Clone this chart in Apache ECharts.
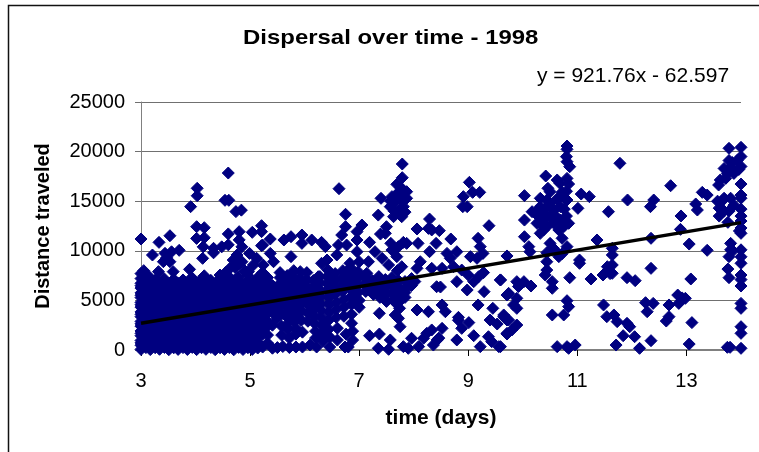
<!DOCTYPE html>
<html>
<head>
<meta charset="utf-8">
<script src="https://cdn.jsdelivr.net/npm/echarts@6/dist/echarts.min.js"></script>
<style>html,body{margin:0;padding:0;background:#fff}#main{width:759px;height:452px}</style>
</head>
<body>
<div id="main"></div>
<script>
// [days, distance], one list per stretch of the x axis
var block3to5 = [
[3.00,60],[3.17,40],[3.34,70],[3.51,30],[3.68,60],[3.85,50],[4.02,40],[4.19,70],[4.36,30],[4.53,60],[4.70,20],[4.87,50],[5.04,60],
[3.00,480],[3.08,500],[3.26,470],[3.42,510],[3.60,480],[3.77,490],[3.93,520],[4.10,470],[4.28,500],[4.44,480],[4.62,510],[4.78,490],[4.96,470],
[3.00,960],[3.17,950],[3.34,980],[3.51,940],[3.68,970],[3.85,960],[4.02,990],[4.19,950],[4.36,960],[4.53,980],[4.70,940],[4.87,970],[5.04,950],
[3.00,1440],[3.08,1450],[3.26,1430],[3.42,1470],[3.60,1440],[3.77,1420],[3.93,1460],[4.10,1440],[4.28,1450],[4.44,1430],[4.62,1460],[4.78,1440],[4.96,1420],
[3.00,1920],[3.17,1930],[3.34,1900],[3.51,1940],[3.68,1920],[3.85,1890],[4.02,1930],[4.19,1910],[4.36,1940],[4.53,1900],[4.70,1920],[4.87,1950],[5.04,1900],
[3.00,2400],[3.08,2390],[3.26,2420],[3.42,2380],[3.60,2410],[3.77,2400],[3.93,2370],[4.10,2420],[4.28,2390],[4.44,2410],[4.62,2380],[4.78,2400],[4.96,2420],
[3.00,2880],[3.17,2860],[3.34,2900],[3.51,2870],[3.68,2890],[3.85,2850],[4.02,2880],[4.19,2900],[4.36,2860],[4.53,2890],[4.70,2870],[4.87,2840],[5.04,2880],
[3.00,3360],[3.08,3380],[3.26,3340],[3.42,3370],[3.60,3350],[3.77,3390],[3.93,3360],[4.10,3330],[4.28,3370],[4.44,3350],[4.62,3380],[4.78,3340],[4.96,3360],
[3.00,3840],[3.17,3820],[3.34,3860],[3.51,3830],[3.68,3850],[3.85,3810],[4.02,3870],[4.19,3840],[4.36,3820],[4.53,3850],[4.70,3830],[4.87,3860],[5.04,3840],
[3.00,4320],[3.08,4340],[3.26,4300],[3.42,4330],[3.60,4310],[3.77,4350],[3.93,4320],[4.10,4290],[4.28,4330],[4.44,4310],[4.62,4340],[4.78,4300],[4.96,4320],
[3.00,4800],[3.17,4780],[3.34,4820],[3.51,4790],[3.68,4810],[3.85,4770],[4.02,4800],[4.19,4830],[4.36,4790],[4.53,4810],[4.70,4780],[4.87,4820],[5.04,4800],
[3.00,5280],[3.08,5300],[3.26,5260],[3.42,5290],[3.60,5270],[3.77,5310],[3.93,5280],[4.10,5250],[4.28,5290],[4.44,5270],[4.62,5300],[4.78,5260],[4.96,5280],
[3.00,5760],[3.17,5740],[3.34,5780],[3.51,5750],[3.68,5770],[3.85,5730],[4.02,5790],[4.19,5760],[4.36,5740],[4.53,5770],[4.70,5750],[4.87,5780],[5.04,5760],
[3.00,6240],[3.08,6260],[3.26,6220],[3.42,6250],[3.60,6230],[3.77,6270],[3.93,6240],[4.10,6210],[4.28,6250],[4.44,6230],[4.62,6260],[4.78,6220],[4.96,6240],
[3.00,6720],[3.17,6700],[3.34,6740],[3.51,6710],[3.68,6730],[3.85,6690],[4.02,6720],[4.19,6750],[4.36,6710],[4.53,6730],[4.70,6700],[4.87,6740],[5.04,6720],
[3.00,7200],[3.08,7320],[3.26,7050],[3.42,7210],[3.60,7120],[3.77,7060],[3.93,7300],[4.10,7110],[4.28,7020],[4.44,7150],[4.62,7340],[4.78,7400],[4.96,7500],
[3.00,7700],[3.05,8000],[3.13,7500],[3.32,7900],[3.59,7900],[3.89,8130],[4.16,7480],[4.45,7560],[4.55,7800],[4.63,8230],[4.72,8350],[4.90,8000],[4.97,7900]
];
// second pass over the same block, the points between the ones above
var blockFill3to5 = [
[3.09,240],[3.26,230],[3.43,250],[3.60,220],[3.77,240],[3.94,260],[4.11,230],[4.28,250],[4.45,220],[4.62,240],[4.79,260],[4.96,230],
[3.00,720],[3.17,730],[3.34,710],[3.51,740],[3.68,720],[3.85,700],[4.02,730],[4.19,710],[4.36,740],[4.53,720],[4.70,700],[4.87,730],[5.04,710],
[3.09,1200],[3.26,1190],[3.43,1220],[3.60,1210],[3.77,1180],[3.94,1200],[4.11,1230],[4.28,1190],[4.45,1210],[4.62,1200],[4.79,1180],[4.96,1220],
[3.00,1680],[3.17,1700],[3.34,1670],[3.51,1690],[3.68,1660],[3.85,1680],[4.02,1710],[4.19,1670],[4.36,1690],[4.53,1680],[4.70,1660],[4.87,1700],[5.04,1670],
[3.09,2160],[3.26,2140],[3.43,2170],[3.60,2150],[3.77,2180],[3.94,2160],[4.11,2130],[4.28,2170],[4.45,2150],[4.62,2180],[4.79,2140],[4.96,2160],
[3.00,2640],[3.17,2650],[3.34,2620],[3.51,2660],[3.68,2630],[3.85,2650],[4.02,2610],[4.19,2640],[4.36,2660],[4.53,2620],[4.70,2650],[4.87,2630],[5.04,2640],
[3.09,3120],[3.26,3100],[3.43,3130],[3.60,3110],[3.77,3140],[3.94,3120],[4.11,3090],[4.28,3130],[4.45,3110],[4.62,3140],[4.79,3100],[4.96,3120],
[3.00,3600],[3.17,3620],[3.34,3590],[3.51,3610],[3.68,3580],[3.85,3600],[4.02,3630],[4.19,3590],[4.36,3610],[4.53,3600],[4.70,3580],[4.87,3620],[5.04,3590],
[3.09,4080],[3.26,4060],[3.43,4090],[3.60,4070],[3.77,4100],[3.94,4080],[4.11,4050],[4.28,4090],[4.45,4070],[4.62,4100],[4.79,4060],[4.96,4080],
[3.00,4560],[3.17,4570],[3.34,4540],[3.51,4580],[3.68,4550],[3.85,4570],[4.02,4530],[4.19,4560],[4.36,4580],[4.53,4540],[4.70,4570],[4.87,4550],[5.04,4560],
[3.09,5040],[3.26,5020],[3.43,5050],[3.60,5030],[3.77,5060],[3.94,5040],[4.11,5010],[4.28,5050],[4.45,5030],[4.62,5060],[4.79,5020],[4.96,5040],
[3.00,5520],[3.17,5540],[3.34,5510],[3.51,5530],[3.68,5500],[3.85,5520],[4.02,5550],[4.19,5510],[4.36,5530],[4.53,5520],[4.70,5500],[4.87,5540],[5.04,5510],
[3.09,6000],[3.26,5980],[3.43,6010],[3.60,5990],[3.77,6020],[3.94,6000],[4.11,5970],[4.28,6010],[4.45,5990],[4.62,6020],[4.79,5980],[4.96,6000],
[3.00,6480],[3.17,6490],[3.34,6460],[3.51,6500],[3.68,6470],[3.85,6490],[4.02,6450],[4.19,6480],[4.36,6500],[4.53,6460],[4.70,6490],[4.87,6470],[5.04,6480],
[3.09,6960],[3.26,6940],[3.43,6970],[3.60,6950],[3.77,6900],[3.94,6960],[4.11,6930],[4.28,6880],[4.45,6950],[4.62,6980],[4.79,6940],[4.96,6960]
];
var upper3to5 = [
[3.00,11190],[3.21,9576],[3.33,10850],[3.53,11520],[3.70,10046],[3.44,9744],[3.41,8900],[3.56,9900],[3.53,8900],[3.47,9300],
[4.03,16300],[4.03,15550],[3.91,14450],[4.02,12430],[4.16,12330],[4.02,11250],[4.16,11320],[4.14,10400],[4.33,10250],[4.33,9800],[4.13,9240],
[4.60,17840],[4.54,15090],[4.61,15090],[4.74,13950],[4.84,14100],[4.60,11700],[4.60,10600],[4.48,10400],[4.80,11930],[4.80,11100],[4.85,10400],
[4.99,9740],[4.69,9070],[4.76,9580],[4.85,8900],[4.80,8700]
];
var cloud5to8 = [
[5.04,11860],[5.21,12530],[5.21,11930],[5.23,10580],[5.37,11190],[5.12,9240],[5.24,8570],[5.06,8570],[5.21,10520],[5.37,9740],[5.43,8900],[5.55,7800],
[5.62,11090],[5.75,11420],[5.95,11590],[5.95,10750],[6.13,11090],[6.31,10850],[6.38,10420],[5.75,9410],[6.63,16260],[6.75,13680],[6.75,12430],[6.68,11590],
[7.05,12600],[6.96,11930],[6.62,10580],[6.77,10580],[6.59,9580],[6.96,11090],[7.19,10850],[6.96,9910],[6.41,9070],[6.31,8740],[6.25,7390],[6.83,8740],[7.17,8900],
[7.29,9910],[7.42,9240],[7.54,8570],[7.00,8900],[7.14,7730],
[5.14,7300],[5.14,6800],[5.14,6300],[5.14,5800],[5.14,5300],[5.14,4800],[5.14,4300],[5.14,3800],[5.14,3300],[5.14,2800],[5.14,2300],[5.14,1800],[5.14,1300],[5.14,800],[5.14,200],
[5.23,7800],[5.23,7100],[5.23,6600],[5.23,6100],[5.23,5600],[5.23,5100],[5.23,4600],[5.23,4100],[5.23,3600],[5.23,3100],[5.23,2600],[5.23,2100],[5.23,1600],[5.23,300],
[5.32,7300],[5.32,6800],[5.32,6300],[5.32,5800],[5.32,5300],[5.32,4800],[5.32,4300],[5.32,3700],[5.32,2900],[5.32,2400],[5.32,1500],[5.32,700],
[5.41,6500],[5.41,6000],[5.41,5500],[5.41,5000],[5.41,4500],[5.41,3800],[5.41,2500],[5.41,180],[5.48,5300],[5.48,4300],[5.50,3200],[5.50,240],
[7.66,4800],[7.37,3700],[7.66,3530],[7.75,2350],[7.72,3190],[7.19,1440],[7.37,1610],[7.57,1010],[7.54,70],[7.35,170],[7.81,340],[7.90,170],[7.96,1180],[7.84,5800],
[7.79,18750],[7.79,17370],[7.69,16700],[7.87,15960],[7.40,15290],[7.60,15460],[7.75,15620],[7.87,15290],[7.57,14450],[7.81,14450],[7.63,13440],[7.78,13440],[7.35,13600],
[7.50,12430],[7.39,11690],[7.48,11760],[7.58,10750],[7.81,10850],[7.72,10420],[7.87,10750],[7.60,10080],[7.69,9410],[7.78,8400],[7.70,8000],
[7.64,14000],[7.72,14000],[7.66,14900],[7.72,15900],[7.80,15000],[7.84,13900],[7.76,16400],[7.58,15000],[7.68,15400],[7.80,16100]
];
// the solid mass under and around the trend line, 5.5 to 8 days
var mass5to8 = [
[5.55,7300],[5.55,6700],[5.55,6100],[5.55,5500],[5.55,4900],[5.55,4300],[5.55,3700],[5.58,2400],[5.58,1500],[5.60,350],
[5.68,7500],[5.68,6900],[5.68,6300],[5.68,5700],[5.68,5100],[5.68,4500],[5.68,3900],[5.68,3300],[5.70,2700],[5.70,2100],[5.72,1200],[5.72,250],
[5.80,8000],[5.80,7300],[5.80,6700],[5.80,6100],[5.80,5500],[5.82,4800],[5.82,4200],[5.82,3500],[5.82,2900],[5.84,2200],[5.84,1600],[5.84,300],
[5.92,7900],[5.92,7200],[5.92,6600],[5.92,6000],[5.92,5400],[5.94,4700],[5.94,3900],[5.94,3000],[5.96,1800],[5.96,300],
[6.04,7800],[6.04,7100],[6.04,6400],[6.04,5800],[6.04,5200],[6.06,4500],[6.06,3700],[6.06,2900],[6.10,500],
[6.16,7000],[6.16,6300],[6.16,5600],[6.18,4900],[6.18,4200],[6.18,3400],[6.18,2700],[6.20,1900],[6.20,1200],[6.22,300],
[6.28,7400],[6.28,6800],[6.28,6100],[6.30,5400],[6.30,4700],[6.30,4000],[6.30,3300],[6.32,2500],[6.32,1700],[6.34,900],
[6.42,8100],[6.42,7400],[6.42,6700],[6.42,6000],[6.44,5300],[6.44,4600],[6.44,3800],[6.44,3000],[6.44,2100],[6.46,1300],[6.46,300],
[6.56,7700],[6.56,7000],[6.56,6300],[6.56,5600],[6.58,4800],[6.58,4100],[6.58,3300],[6.60,2200],[6.60,1000],
[6.70,8000],[6.70,7300],[6.70,6600],[6.70,5900],[6.72,5100],[6.72,4300],[6.72,3400],[6.76,1600],[6.74,300],[6.80,300],
[6.84,8300],[6.84,7600],[6.84,6900],[6.84,6200],[6.86,5400],[6.86,4600],[6.86,3600],[6.86,2700],[6.88,1900],[6.88,1000],
[6.98,7900],[6.98,7200],[6.98,6500],[6.98,5800],[7.00,5000],[7.00,4300],
[7.10,7400],[7.10,6600],[7.12,5900],[7.24,7000],[7.24,6300],[7.26,5600],[7.36,7400],[7.36,6700],[7.36,6000],[7.38,5300],[7.48,7100],[7.48,6400],[7.50,5700],
[7.50,4900],[7.60,7300],[7.60,6500],[7.60,5800],[7.62,5100],[7.72,7000],[7.72,6300],[7.72,5600],[7.74,4900],[7.74,4200],[7.84,6900],[7.84,6100],[7.84,5300],[7.96,7200],[7.96,6500],[8.02,6900]
];
var scatter8to10 = [
[8.06,12200],[8.08,10750],[8.29,13200],[8.27,12260],[8.33,12100],[8.47,12030],[8.41,10750],[8.29,9910],[8.68,11190],[8.79,9910],[8.61,9740],[8.67,9240],
[9.02,16900],[8.91,15460],[9.08,15890],[9.21,15890],[8.90,14450],[8.98,14450],[9.38,12530],[9.18,11260],[9.22,10420],[9.27,9740],[9.04,9410],[9.16,9240],[9.71,9480],
[8.12,8900],[8.06,8230],[8.33,8230],[8.52,8230],[8.73,8400],[8.88,8060],[9.00,7560],[9.28,7800],[9.19,7390],[9.59,7060],[8.79,6890],[8.42,6380],[8.49,6350],[8.98,6050],[9.10,6890],[9.29,5880],[9.74,5710],
[9.18,4540],[9.45,4200],[8.06,4030],[8.27,3860],[8.52,4540],[8.58,3860],[8.82,3290],[8.82,3000],[9.01,2760],[9.40,3020],[9.53,2620],[9.65,3530],[9.74,3020],[8.88,2180],[8.79,1010],[9.10,1440],[9.37,1340],[9.43,840],[9.22,340],[9.56,340],[9.71,1680],
[8.33,2020],[8.24,1680],[8.18,1180],[8.52,2180],[8.43,1010],[8.36,500],[8.46,1200],[8.09,340],
[9.59,7060],[9.89,6890],[10.02,6890],[10.15,6450],[9.92,6400],[9.71,5540],[9.89,5210],[9.83,4540],[9.89,4200],[9.65,3360],[9.71,3020],[9.89,2520],[9.80,2020],[9.71,1610],[9.59,340]
];
var cluster10to11 = [
[10.81,20560],[10.81,20230],[10.80,19490],[10.81,18980],[10.86,18480],[10.42,17540],[10.46,16300],[10.50,15960],[10.63,17140],[10.68,16800],[10.81,17300],[10.84,16730],
[10.03,15560],[11.07,15720],[11.22,15460],[11.01,14280],[10.17,13940],[10.03,13100],[10.32,15290],[10.32,14450],[10.32,13600],[10.32,12770],[10.32,11760],
[10.44,15120],[10.44,13440],[10.44,12430],[10.57,14110],[10.57,12770],[10.69,15460],[10.69,14450],[10.69,13100],[10.81,15120],[10.84,12770],[10.75,12430],[10.66,12100],[10.38,12100],[10.26,12770],
[10.50,14800],[10.40,14200],[10.50,13500],[10.62,15200],[10.76,14200],[10.80,13500],[10.62,13400],[10.26,14000],[10.72,15900],[10.80,16000],[10.40,12800],[10.28,13500],
[10.03,11420],[10.11,10420],[10.13,9910],[10.50,10750],[10.72,11260],[10.81,10420],[10.66,9410],[10.44,9810],[10.44,8900],[10.44,8060],[10.41,7560],[10.54,6890],[10.54,6220],[10.86,7290],[10.60,10000],[10.72,9700],[10.55,10300],
[10.81,4970],[10.84,4370],[10.54,3530],[10.75,3530],[10.63,340],[10.81,340],[10.84,170],[10.96,500]
];
var sparse11to14 = [
[11.04,9070],[11.04,8740],[11.36,11090],[11.64,10250],[11.64,9580],[11.64,8570],[11.57,8060],[11.64,7730],[11.47,7560],[11.25,7160],[11.91,7290],[12.06,6990],[12.35,11260],[12.35,8230],
[11.78,18820],[11.92,15120],[11.57,13940],[12.40,15120],[12.34,14450],[12.71,16560],[13.17,14720],[13.20,14110],[12.90,13510],[12.89,12160],[13.05,10680],[13.38,10050],[13.29,15890],[13.38,15620],[13.08,7160],
[11.48,4540],[11.54,3360],[11.67,3530],[11.73,2860],[11.91,2690],[11.96,2350],[11.84,1440],[12.05,1340],[11.71,500],[12.14,170],[12.35,940],[12.25,4770],[12.39,4700],[12.28,3860],
[12.68,4540],[12.84,5540],[12.86,4700],[12.98,5210],[12.92,5250],[12.68,3360],[12.63,2920],[13.10,2760],[13.05,600],[11.60,7700],[11.55,8400]
];
var edge14 = [
[13.78,20330],[14.00,20430],[13.59,16630],[13.62,17140],[13.69,18300],[13.78,19100],[13.81,18400],[13.87,17800],[13.93,19100],[14.00,19500],[14.00,18500],[13.96,18200],[13.75,17800],[13.72,17300],[13.84,18900],
[14.00,16730],[14.00,15620],[14.00,15300],[14.00,14200],[14.00,13500],[14.00,13000],[14.00,12300],[14.00,11760],[13.97,12000],[13.57,15000],[13.60,14300],[13.60,13500],[13.69,15300],[13.81,15300],[13.87,14600],[13.78,14000],[13.69,14000],[13.65,15000],[13.76,12870],
[13.81,10750],[13.81,10100],[13.78,9410],[13.85,10000],[14.00,10100],[14.00,9400],[14.00,8740],[13.76,8160],[13.78,7290],[14.00,7560],[14.00,7100],[14.00,6450],[14.00,4700],[14.00,4200],[14.00,2350],[14.00,1680],[13.75,270],[13.80,270],[14.00,170]
];
var trendDays = [3, 14];
var trendDistance = [2703, 12842];
var xTickValues = [3, 5, 7, 9, 11, 13];

var scatterData = [].concat(block3to5, blockFill3to5, upper3to5, cloud5to8, mass5to8, scatter8to10, cluster10to11, sparse11to14, edge14);
var font = '"Liberation Sans", Arial, sans-serif';

var chart = echarts.init(document.getElementById('main'), null, {renderer: 'canvas'});
chart.setOption({
  animation: false,
  backgroundColor: '#fff',
  grid: {left: 141, right: 18, top: 102, bottom: 102},
  xAxis: {
    type: 'value', min: 3, max: 14,
    name: 'time (days)', nameLocation: 'middle', nameGap: 58,
    nameTextStyle: {fontFamily: font, fontSize: 21, fontWeight: 'bold', color: '#000'},
    splitLine: {show: false},
    axisLine: {onZero: false, lineStyle: {color: '#808080', width: 2}},
    axisTick: {customValues: xTickValues, length: 6, lineStyle: {color: '#000'}},
    axisLabel: {customValues: xTickValues, margin: 21, fontFamily: font, fontSize: 20, color: '#000'}
  },
  yAxis: {
    type: 'value', min: 0, max: 25000, interval: 5000,
    name: 'Distance traveled', nameLocation: 'middle', nameGap: 88,
    nameTextStyle: {fontFamily: font, fontSize: 20, fontWeight: 'bold', color: '#000'},
    splitLine: {lineStyle: {color: '#707070', width: 1}},
    axisLine: {show: true, lineStyle: {color: '#808080'}},
    axisTick: {show: true, length: 6, lineStyle: {color: '#707070'}},
    axisLabel: {margin: 16, fontFamily: font, fontSize: 20, color: '#000', formatter: function (v) { return String(v); }}
  },
  series: [
    {type: 'scatter', data: scatterData, symbol: 'diamond', symbolSize: 12, clip: false,
     itemStyle: {color: '#000080', borderColor: '#000080', borderWidth: 1, opacity: 1}, large: false},
    {type: 'line', data: [[trendDays[0], trendDistance[0]], [trendDays[1], trendDistance[1]]],
     symbol: 'none', lineStyle: {color: '#000', width: 3.5}, z: 5}
  ],
  graphic: [
    {type: 'polyline', shape: {points: [[8.5, 452], [8.5, 5.5], [759, 5.5]]},
     style: {stroke: '#111', lineWidth: 1.5, fill: null}},
    {type: 'text', x: 243, y: 38, scaleX: 1.14,
     style: {text: 'Dispersal over time - 1998', fontFamily: font, fontSize: 21, fontWeight: 'bold', fill: '#000', verticalAlign: 'middle'}},
    {type: 'text', left: 537, top: 66,
     style: {text: 'y = 921.76x - 62.597', fontFamily: font, fontSize: 21, fill: '#000'}}
  ]
});
</script>
</body>
</html>
